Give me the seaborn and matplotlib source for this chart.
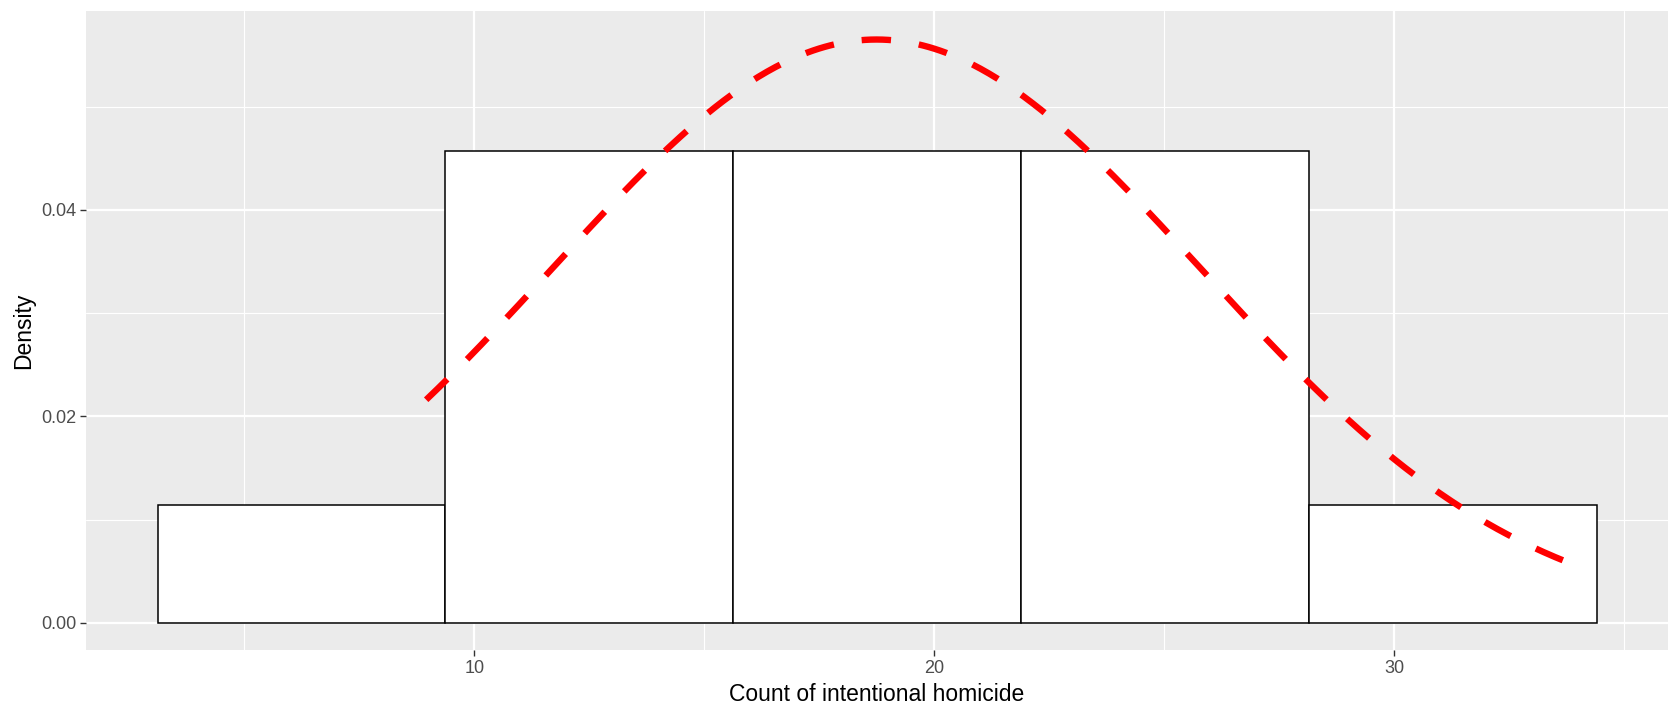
import numpy as np
import pandas as pd
import matplotlib
matplotlib.use("Agg")
import matplotlib.pyplot as plt
import seaborn as sns
from matplotlib.ticker import FixedLocator

# ---- data ----
bin_edges = [3.11, 9.37, 15.63, 21.89, 28.15, 34.41]
bin_density = [0.0114, 0.0457, 0.0457, 0.0457, 0.0114]
curve_mean = 18.74
curve_sd = 7.06
curve_range = [8.95, 34.0]
x_label = "Count of intentional homicide"
y_label = "Density"
x_ticks = [10, 20, 30]
y_ticks = [0.00, 0.02, 0.04]
y_ticklabels = ["0.00", "0.02", "0.04"]

sns.set_theme(style="darkgrid")
plt.rcParams['font.family'] = ['Liberation Sans', 'DejaVu Sans']

fig = plt.figure(figsize=(16.8, 7.2), dpi=100)
ax = fig.add_axes([86/1680, 1 - 650.4/720, (1668 - 86)/1680, (650.4 - 10.7)/720])
ax.set_facecolor("#EBEBEB")

centers = [(bin_edges[i] + bin_edges[i + 1]) / 2 for i in range(len(bin_density))]
hist_df = pd.DataFrame({"x": centers, "w": bin_density})
sns.histplot(data=hist_df, x="x", weights="w", bins=bin_edges, stat="count",
             color="white", edgecolor="black", linewidth=1.1, alpha=1,
             ax=ax, zorder=3)

xs = np.linspace(curve_range[0], curve_range[1], 400)
ys = np.exp(-0.5 * ((xs - curve_mean) / curve_sd) ** 2) / (curve_sd * np.sqrt(2 * np.pi))
curve_df = pd.DataFrame({"x": xs, "y": ys})
sns.lineplot(data=curve_df, x="x", y="y", ax=ax, color="red", linewidth=4.6,
             zorder=4)
line = ax.lines[-1]
line.set_dashes((4.6, 4.4))
line.set_dash_capstyle("butt")

ax.set_xlim(1.554, 35.95)
ax.set_ylim(-0.00268, 0.0593)

ax.xaxis.set_major_locator(FixedLocator(x_ticks))
ax.xaxis.set_minor_locator(FixedLocator([5, 15, 25, 35]))
ax.yaxis.set_major_locator(FixedLocator(y_ticks))
ax.yaxis.set_minor_locator(FixedLocator([0.01, 0.03, 0.05]))
ax.set_yticklabels(y_ticklabels)

ax.grid(which="major", color="white", linewidth=1.6, zorder=0)
ax.grid(which="minor", color="white", linewidth=0.8, zorder=0)
ax.set_axisbelow(True)
for s in ax.spines.values():
    s.set_visible(False)

ax.tick_params(axis="both", which="major", length=4, width=1.0, color="#333333",
               labelsize=13, labelcolor="#4D4D4D", pad=3, bottom=True, left=True)
ax.tick_params(axis="both", which="minor", length=0)

ax.set_xlabel(x_label, fontsize=16.5, color="black", labelpad=4)
ax.set_ylabel(y_label, fontsize=16.5, color="black", labelpad=4)

fig.savefig("out.png", dpi=100, facecolor="white")
